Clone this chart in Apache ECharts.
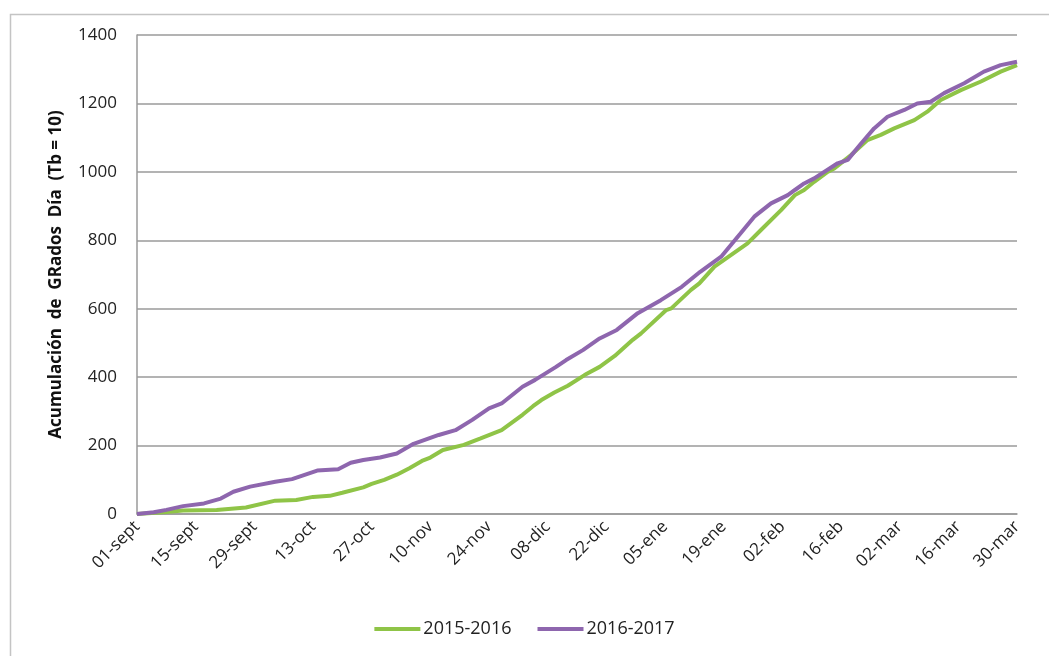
<!DOCTYPE html>
<html>
<head>
<meta charset="utf-8">
<title>Acumulación de Grados Día</title>
<script src="https://cdn.jsdelivr.net/npm/echarts@6/dist/echarts.min.js"></script>
<style>
  html, body { margin: 0; padding: 0; background: #ffffff; }
  #chart { width: 1049px; height: 656px; }
</style>
</head>
<body>
<div id="chart"></div>
<script>
// Tick labels every 14 days, from 1 September to 30 March
const tickLabels = ['01-sept', '15-sept', '29-sept', '13-oct', '27-oct', '10-nov', '24-nov',
  '08-dic', '22-dic', '05-ene', '19-ene', '02-feb', '16-feb', '02-mar', '16-mar', '30-mar'];

const seriesNames = ['2015-2016', '2016-2017'];

// Season 2015-2016: day since 1 September and accumulated degree days
const days1516 = [0, 7, 11, 19, 26, 33, 38, 42, 46, 49, 54, 56, 59, 62, 65, 68, 70, 73, 78, 82,
  87, 92, 94.5, 96.5, 99.6, 102.8, 106.8, 110.4, 114, 118.3, 120.3, 126.3, 127.5, 132.2, 134.2,
  137.8, 145.7, 148.9, 153.7, 157, 159.2, 161.6, 164.8, 166.4, 170.4, 174.3, 177.5, 180.7, 185.5,
  188.6, 191.8, 196.6, 201.4, 206.1, 210];
const gdd1516 = [0, 6, 10, 12, 19, 39, 41, 50, 53, 62, 78, 88, 100, 115, 134, 155, 165, 187, 202, 221,
  245, 290, 315, 333, 355, 375, 406, 430, 462, 509, 528, 596, 601, 655, 674,
  723, 791, 830, 888, 932, 947, 971, 1000, 1010, 1049, 1093, 1108, 1127, 1151,
  1176, 1210, 1239, 1264, 1293, 1312];

// Season 2016-2017: day since 1 September and accumulated degree days
const days1617 = [0, 4, 7, 11, 16, 20, 23, 27, 33, 37, 43, 48, 51, 54, 58, 62, 66, 72, 76, 80,
  84, 87, 92, 95, 100, 102.4, 106.4, 110.4, 114.5, 119.5, 125, 130, 134.4, 139.4, 144, 147.3,
  151.3, 155.3, 157, 159.2, 161.6, 167.2, 169.6, 172.8, 175.9, 179.1, 183.1, 186.2, 189.4,
  192.6, 197.4, 202.1, 206.1, 210];
const gdd1617 = [0, 5, 12, 23, 31, 45, 65, 80, 94, 102, 127, 131, 150, 158, 165, 177, 205, 231, 245, 275,
  309, 323, 372, 392, 430, 450, 479, 513, 538, 587, 625, 664, 708, 752, 820, 869,
  908, 932, 947, 966, 981, 1025, 1035, 1083, 1127, 1161, 1181, 1200, 1205,
  1230, 1259, 1293, 1312, 1322];

const colors = ['#8fc447', '#8e66ae'];

function pairs(xs, ys) {
  return xs.map((x, i) => [x, ys[i]]);
}

const chart = echarts.init(document.getElementById('chart'), null, { renderer: 'canvas' });

const labelFont = { fontFamily: '"Open Sans", sans-serif', fontSize: 17, color: '#222222' };

chart.setOption({
  animation: false,
  backgroundColor: '#ffffff',
  graphic: [{
    type: 'rect',
    left: 8, top: 12,
    shape: { width: 1100, height: 700 },
    style: { fill: 'none', stroke: '#c4c4c4', lineWidth: 1.5 },
    silent: true
  }],
  grid: { left: 137, right: 32, top: 35, bottom: 142, containLabel: false },
  legend: {
    bottom: 13,
    left: 'center',
    itemWidth: 46,
    itemHeight: 4,
    itemGap: 26,
    icon: 'rect',
    textStyle: { fontFamily: '"Open Sans", sans-serif', fontSize: 18, color: '#222222', padding: [0, 0, 0, -2] },
    data: seriesNames
  },
  xAxis: {
    type: 'value',
    min: 0,
    max: 210,
    interval: 14,
    splitLine: { show: false },
    axisTick: { show: false },
    axisLine: { show: true, lineStyle: { color: '#9a9a9a', width: 1.5 } },
    axisLabel: Object.assign({
      rotate: 45,
      margin: 10,
      formatter: v => tickLabels[Math.round(v / 14)] || ''
    }, labelFont)
  },
  yAxis: {
    type: 'value',
    min: 0,
    max: 1400,
    interval: 200,
    name: 'Acumulación  de  GRados  Día  (Tb = 10)',
    nameLocation: 'middle',
    nameGap: 72,
    nameTextStyle: { fontFamily: '"Open Sans", sans-serif', fontSize: 17, fontWeight: 'bold', color: '#111111' },
    axisLine: { show: true, lineStyle: { color: '#9a9a9a', width: 1.5 } },
    axisTick: { show: false },
    splitLine: { show: true, lineStyle: { color: '#9a9a9a', width: 1.5 } },
    axisLabel: Object.assign({ margin: 20, formatter: v => String(v) }, labelFont)
  },
  series: [
    {
      name: seriesNames[0],
      type: 'line',
      data: pairs(days1516, gdd1516),
      showSymbol: false,
      symbol: 'none',
      lineStyle: { color: colors[0], width: 4 },
      itemStyle: { color: colors[0] }
    },
    {
      name: seriesNames[1],
      type: 'line',
      data: pairs(days1617, gdd1617),
      showSymbol: false,
      symbol: 'none',
      lineStyle: { color: colors[1], width: 4 },
      itemStyle: { color: colors[1] }
    }
  ]
});
</script>
</body>
</html>
